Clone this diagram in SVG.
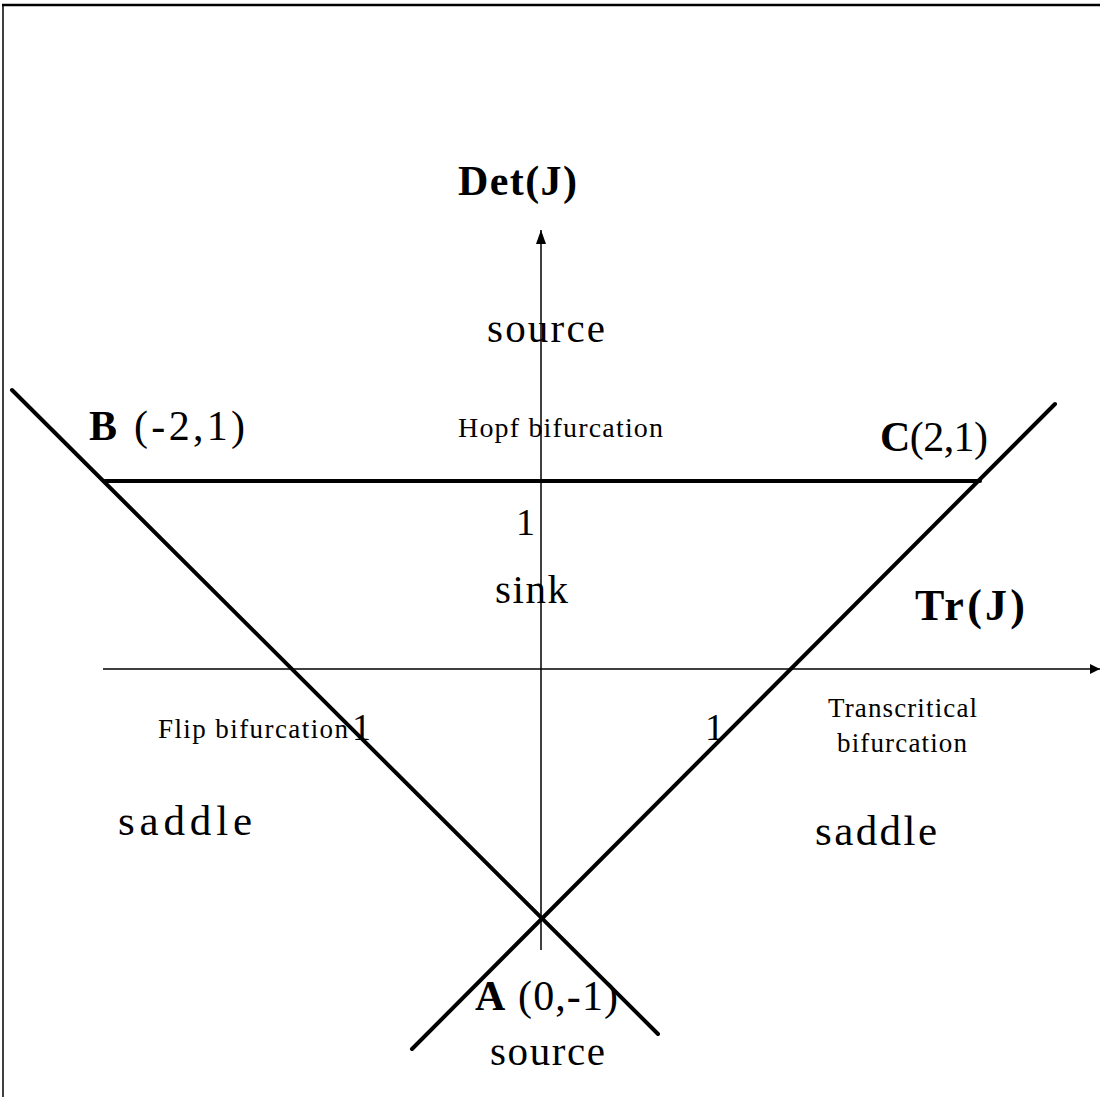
<svg xmlns="http://www.w3.org/2000/svg" width="1100" height="1097" viewBox="0 0 1100 1097">
<style>
text{font-family:"Liberation Serif","Times New Roman",serif;fill:#000}
.b{font-weight:bold}
.axis{stroke:#000;stroke-width:1.5;fill:none}
.thick{stroke:#000;stroke-width:4;fill:none;stroke-linecap:round}
</style>
<defs>
<marker id="arr" viewBox="0 0 10 10" refX="10" refY="5" markerWidth="10" markerHeight="10" markerUnits="userSpaceOnUse" orient="auto"><path d="M0,0 L10,5 L0,10 Z" fill="#000"/></marker>
<marker id="arrv" viewBox="0 0 14 10" refX="14" refY="5" markerWidth="14" markerHeight="10" markerUnits="userSpaceOnUse" orient="auto"><path d="M0,0 L14,5 L0,10 Z" fill="#000"/></marker>
</defs>
<rect width="1100" height="1097" fill="#fff"/>
<g id="frame">
<line x1="2" y1="5" x2="1100" y2="5" stroke="#000" stroke-width="2.5"/>
<line x1="3" y1="5" x2="3" y2="1097" stroke="#000" stroke-width="1.5"/>
</g>
<g id="axes">
<line class="axis" x1="541" y1="950" x2="541" y2="230" marker-end="url(#arrv)"/>
<line class="axis" x1="103" y1="669" x2="1100" y2="669" marker-end="url(#arr)"/>
</g>
<g id="lines">
<line class="thick" x1="12" y1="390" x2="658" y2="1034"/>
<line class="thick" x1="412" y1="1049" x2="1055" y2="404"/>
<line class="thick" x1="105" y1="481" x2="980" y2="481"/>
</g>
<g id="labels">
<text class="b" x="458" y="195" font-size="42" textLength="119">Det(J)</text>
<text x="487" y="342" font-size="41" textLength="118">source</text>
<text x="89" y="440" font-size="42" textLength="156"><tspan class="b">B</tspan> (-2,1)</text>
<text x="458" y="437" font-size="28" textLength="205">Hopf bifurcation</text>
<text x="880" y="451" font-size="42" textLength="108"><tspan class="b">C</tspan>(2,1)</text>
<text x="516" y="535" font-size="38">1</text>
<text x="495" y="603" font-size="41" textLength="73">sink</text>
<text class="b" x="915" y="620" font-size="44" textLength="110">Tr(J)</text>
<text x="352" y="740" font-size="38">1</text>
<text x="705" y="740" font-size="38">1</text>
<text x="158" y="738" font-size="27" textLength="190">Flip bifurcation</text>
<text x="828" y="717" font-size="27" textLength="149">Transcritical</text>
<text x="837" y="752" font-size="27" textLength="130">bifurcation</text>
<text x="118" y="835" font-size="43" textLength="134">saddle</text>
<text x="815" y="845" font-size="43" textLength="122">saddle</text>
<text x="475" y="1010" font-size="42" textLength="143"><tspan class="b">A</tspan> (0,-1)</text>
<text x="490" y="1065" font-size="41" textLength="115">source</text>
</g>
</svg>
